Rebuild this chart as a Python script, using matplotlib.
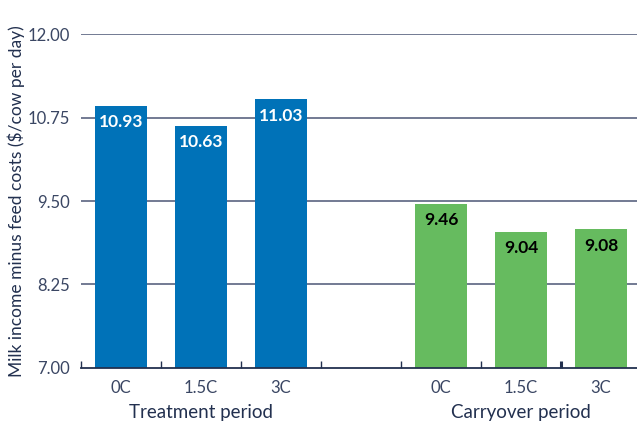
import numpy as np
import matplotlib
matplotlib.use('Agg')
import matplotlib.pyplot as plt

#---------------- data ----------------
doses = ['0C', '1.5C', '3C']
treatment = [10.93, 10.63, 11.03]
carryover = [9.46, 9.04, 9.08]
groups = ['Treatment period', 'Carryover period']
yticks = [7.00, 8.25, 9.50, 10.75, 12.00]

plt.rcParams['font.family'] = ['Lato', 'DejaVu Sans']
navy = '#22304f'
blue = '#0072b8'
green = '#66bb5f'

fig = plt.figure(figsize=(6.37, 4.21), dpi=100)
ax = fig.add_axes([0.127, 0.126, 0.873, 0.793])

# slot positions: 3 treatment, one empty, 3 carryover
x_t = np.arange(len(doses))
x_c = np.arange(len(doses)) + len(doses) + 1
w = 0.64

ax.set_ylim(7, 12)
ax.set_xlim(-0.5, 6.45)
ax.set_yticks(yticks)
ax.set_yticklabels(['%.2f' % v for v in yticks], fontsize=12, color='#3a4663')
for v in yticks[1:]:
    ax.axhline(v, color='#5a6480', lw=1.2, zorder=0)

b1 = ax.bar(x_t, [v - 7 for v in treatment], bottom=7, width=w, color=blue, zorder=2)
b2 = ax.bar(x_c, [v - 7 for v in carryover], bottom=7, width=w, color=green, zorder=2)

for x, v in zip(x_t, treatment):
    ax.text(x, v - 0.13, '%.2f' % v, ha='center', va='top', color='white',
            fontsize=12.5, fontweight='bold', zorder=3)
for x, v in zip(x_c, carryover):
    ax.text(x, v - 0.13, '%.2f' % v, ha='center', va='top', color='black',
            fontsize=12.5, fontweight='bold', zorder=3)

# tick marks at slot boundaries, labels at bar centres
ax.set_xticks(np.arange(-0.5, 6.5, 1.0))
ax.set_xticklabels([])
ax.set_xticks(list(x_t) + list(x_c), minor=True)
ax.set_xticklabels(doses + doses, minor=True, fontsize=12, color='#3a4663')
ax.tick_params(axis='x', which='major', direction='in', length=5, width=1, color=navy)
ax.tick_params(axis='x', which='minor', length=0, pad=9)
ax.tick_params(axis='y', length=0, pad=8)
ticks = ax.xaxis.get_major_ticks()
ticks[5].tick1line.set_color('#d8dbe2')
ticks[6].tick1line.set_color('black')
ticks[6].tick1line.set_markeredgewidth(2.2)

for s in ['top', 'right', 'left']:
    ax.spines[s].set_visible(False)
ax.spines['bottom'].set_color(navy)
ax.spines['bottom'].set_linewidth(1.3)

ax.set_ylabel('Milk income minus feed costs ($/cow per day)', fontsize=12.5, color=navy, labelpad=2)
ax.text(np.mean(x_t), -0.132, groups[0], transform=ax.get_xaxis_transform(),
        ha='center', va='center', fontsize=13.5, color=navy)
ax.text(np.mean(x_c), -0.132, groups[1], transform=ax.get_xaxis_transform(),
        ha='center', va='center', fontsize=13.5, color=navy)

fig.savefig('out.png', dpi=100)
